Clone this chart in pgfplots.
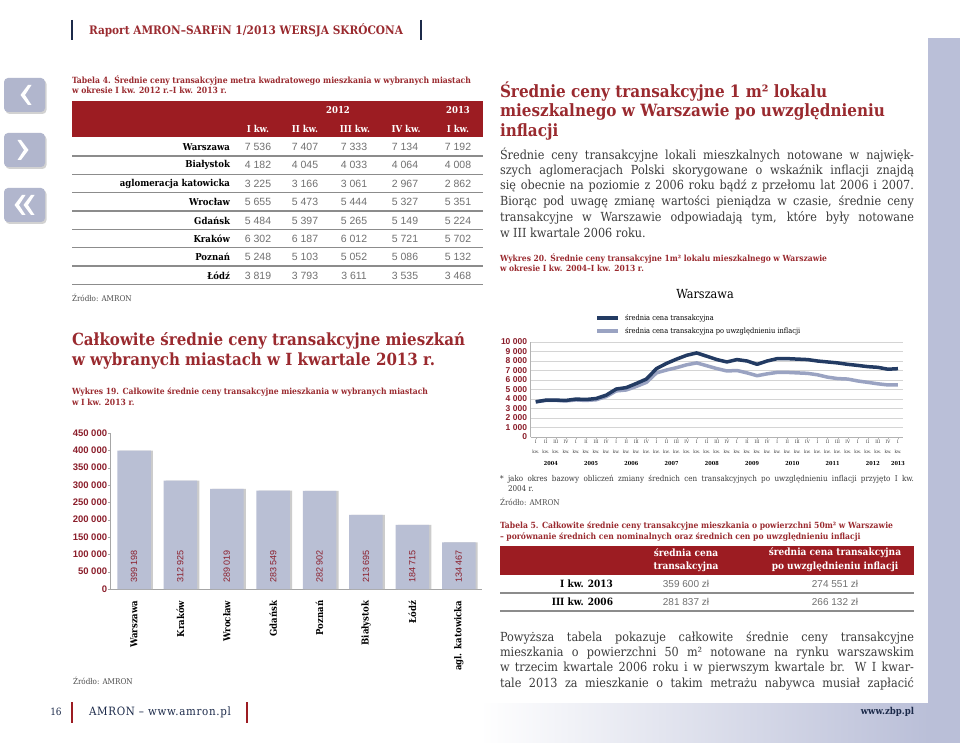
\documentclass[border=0pt]{standalone}
\usepackage{fontspec}
\usepackage{pgfplots}
\pgfplotsset{compat=1.18}
\usetikzlibrary{shadows}
\setmainfont{DejaVu Serif}[FakeStretch=0.9]
\newfontfamily\sansf{Liberation Sans}
\definecolor{dred}{HTML}{9A2A2F}
\definecolor{band}{HTML}{9C1C22}
\definecolor{axred}{HTML}{8B1E2B}
\definecolor{navy}{HTML}{233B63}
\definecolor{navybar}{HTML}{1C2A4A}
\definecolor{lav}{HTML}{BABFD8}
\definecolor{lavline}{HTML}{9AA3C2}
\definecolor{barc}{HTML}{B9BFD4}
\definecolor{txt}{HTML}{3C3C3C}
\definecolor{numg}{HTML}{707070}
\newlength\tmpl
\newcommand{\setscale}[3]{\settowidth{\tmpl}{#3}\pgfmathsetmacro{#1}{#2/\tmpl}}
\newcommand{\jl}[2]{\makebox[#1pt][s]{#2}}
\newcommand{\hf}{\bfseries\fontsize{12}{14}\selectfont}
\newcommand{\cf}{\bfseries\fontsize{8}{9}\selectfont}
\newcommand{\bt}{\fontsize{12.5}{14}\selectfont}
\newcommand{\src}{\fontsize{8}{9}\selectfont\color{black!70}}
\newcommand{\ff}{\fontsize{9}{10}\selectfont\addfontfeature{LetterSpace=6}}
\tikzset{T/.style={inner sep=0pt, outer sep=0pt, anchor=west},
 TC/.style={inner sep=0pt, outer sep=0pt, anchor=center},
 TE/.style={inner sep=0pt, outer sep=0pt, anchor=east}}
\begin{document}
\setscale{\fsA}{314}{\hf Raport AMRON–SARFiN 1/2013 WERSJA SKRÓCONA}%
\setscale{\fsB}{399}{\cf Tabela 4. Średnie ceny transakcyjne metra kwadratowego mieszkania w wybranych miastach}%
\setscale{\fsC}{393}{\hf Całkowite średnie ceny transakcyjne mieszkań}%
\setscale{\fsD}{356}{\cf Wykres 19. Całkowite średnie ceny transakcyjne mieszkania w wybranych miastach}%
\setscale{\fsE}{385}{\hf mieszkalnego w Warszawie po uwzględnieniu}%
\setscale{\fsF}{327}{\cf Wykres 20. Średnie ceny transakcyjne 1m² lokalu mieszkalnego w Warszawie}%
\setscale{\fsG}{393}{\cf Tabela 5. Całkowite średnie ceny transakcyjne mieszkania o powierzchni 50m² w Warszawie}%
\setscale{\fsH}{142}{\ff AMRON – www.amron.pl}%
\begin{tikzpicture}
\path[use as bounding box] (0pt,0pt) rectangle (960pt,-743pt);
\begin{scope}[x=1pt,y=-1pt]
\fill[white] (0,0) rectangle (960,743);
% right strip and bottom band
\fill[lav] (928,38) rectangle (960,743);
\shade[left color=white, right color=lav] (480,703) rectangle (928.5,743);
% header
\draw[navybar, line width=2.2pt] (72,20) -- (72,40);
\draw[navybar, line width=2.2pt] (421,20) -- (421,40);
\node[T] at (89,30.5) {\scalebox{\fsA}{\hf\color{dred}Raport AMRON–SARFiN 1/2013 WERSJA SKRÓCONA}};
% nav buttons
\foreach \yt in {78,133,188}
  \fill[lav!95!black, rounded corners=4pt, drop shadow={shadow xshift=1.5pt, shadow yshift=-2pt, opacity=0.35}] (4,\yt) rectangle (45,{\yt+34});
\fill[white] (28,85)--(20.5,95)--(28,105)--(31.5,105)--(25,95)--(31.5,85)--cycle;
\fill[white] (21,140)--(28.5,150)--(21,160)--(17.5,160)--(24,150)--(17.5,140)--cycle;
\fill[white] (22,195)--(14.5,205)--(22,215)--(25.5,215)--(19,205)--(25.5,195)--cycle;
\fill[white] (31,195)--(23.5,205)--(31,215)--(34.5,215)--(28,205)--(34.5,195)--cycle;
% Tabela 4 caption
\node[T] at (72,80.5) {\scalebox{\fsB}{\cf\color{dred}Tabela 4. Średnie ceny transakcyjne metra kwadratowego mieszkania w wybranych miastach}};
\node[T] at (72,90) {\scalebox{\fsB}{\cf\color{dred}w okresie I kw. 2012 r.–I kw. 2013 r.}};
% Tabela 4 band
\fill[band] (72,101) rectangle (483,137.5);
\begin{scope}[every node/.style={TC, text=white, font=\bfseries\fontsize{9.5}{11}\selectfont}]
\node at (338,110) {2012};
\node at (458,110) {2013};
\node at (258,128.5) {I kw.};
\node at (305,128.5) {II kw.};
\node at (355,128.5) {III kw.};
\node at (406,128.5) {IV kw.};
\node at (458,128.5) {I kw.};
\end{scope}
\foreach \k in {0,...,7}
  \draw[black!45, line width=1.3pt] (72,{156+18.35*\k}) -- (483,{156+18.35*\k});
\foreach \n/\a/\b/\c/\d/\e [count=\k from 0] in {Warszawa/7 536/7 407/7 333/7 134/7 192,Białystok/4 182/4 045/4 033/4 064/4 008,aglomeracja katowicka/3 225/3 166/3 061/2 967/2 862,Wrocław/5 655/5 473/5 444/5 327/5 351,Gdańsk/5 484/5 397/5 265/5 149/5 224,Kraków/6 302/6 187/6 012/5 721/5 702,Poznań/5 248/5 103/5 052/5 086/5 132,Łódź/3 819/3 793/3 611/3 535/3 468}{
  \pgfmathsetmacro\yy{147+18.35*\k}
  \node[TE, font=\bfseries\fontsize{9.5}{11}\selectfont] at (230,\yy) {\n};
  \begin{scope}[every node/.style={TC, font=\sansf\fontsize{10.5}{12}\selectfont, text=numg}]
  \node at (258,\yy) {\a};
  \node at (305,\yy) {\b};
  \node at (354,\yy) {\c};
  \node at (405,\yy) {\d};
  \node at (458,\yy) {\e};
  \end{scope}
}
\node[T] at (72,297.5) {\src Źródło: AMRON};
% Left heading
\node[T] at (72,341) {\scalebox{\fsC}{\hf\color{dred}Całkowite średnie ceny transakcyjne mieszkań}};
\node[T] at (72,361) {\scalebox{\fsC}{\hf\color{dred}w wybranych miastach w I kwartale 2013 r.}};
\node[T] at (72,392.5) {\scalebox{\fsD}{\cf\color{dred}Wykres 19. Całkowite średnie ceny transakcyjne mieszkania w wybranych miastach}};
\node[T] at (72,402.5) {\scalebox{\fsD}{\cf\color{dred}w I kw. 2013 r.}};
\node[T] at (73,681) {\src Źródło: AMRON};
% Right heading
\node[T] at (500,92) {\scalebox{\fsE}{\hf\color{dred}Średnie ceny transakcyjne 1 m² lokalu}};
\node[T] at (500,112) {\scalebox{\fsE}{\hf\color{dred}mieszkalnego w Warszawie po uwzględnieniu}};
\node[T] at (500,132) {\scalebox{\fsE}{\hf\color{dred}inflacji}};
\begin{scope}[every node/.style={T, text=txt}]
\node at (500,155) {\bt\jl{414}{Średnie ceny transakcyjne lokali mieszkalnych notowane w najwięk-}};
\node at (500,170.6) {\bt\jl{414}{szych aglomeracjach Polski skorygowane o wskaźnik inflacji znajdą}};
\node at (500,186.2) {\bt\jl{414}{się obecnie na poziomie z 2006 roku bądź z przełomu lat 2006 i 2007.}};
\node at (500,201.8) {\bt\jl{414}{Biorąc pod uwagę zmianę wartości pieniądza w czasie, średnie ceny}};
\node at (500,217.4) {\bt\jl{414}{transakcyjne w Warszawie odpowiadają tym, które były notowane}};
\node at (500,233) {\bt w III kwartale 2006 roku.};
\end{scope}
\node[T] at (500,258.5) {\scalebox{\fsF}{\cf\color{dred}Wykres 20. Średnie ceny transakcyjne 1m² lokalu mieszkalnego w Warszawie}};
\node[T] at (500,268.5) {\scalebox{\fsF}{\cf\color{dred}w okresie I kw. 2004–I kw. 2013 r.}};
% line chart title and legend
\node[TC, font=\fontsize{12.5}{14}\selectfont] at (705,294) {Warszawa};
\draw[navy, line width=3.5pt] (597,318) -- (618,318);
\draw[lavline, line width=3.5pt] (597,331) -- (618,331);
\node[T, font=\fontsize{7.4}{8}\selectfont] at (625,318) {średnia cena transakcyjna};
\node[T, font=\fontsize{7.4}{8}\selectfont] at (625,331) {średnia cena transakcyjna po uwzględnieniu inflacji};
% footnote
\node[T, text=txt] at (500,479) {\fontsize{8}{9}\selectfont *};
\node[T, text=txt] at (508,479) {\fontsize{8}{9}\selectfont\jl{406}{jako okres bazowy obliczeń zmiany średnich cen transakcyjnych po uwzględnieniu inflacji przyjęto I kw.}};
\node[T, text=txt] at (508,489) {\fontsize{8}{9}\selectfont 2004 r.};
\node[T] at (500,502) {\src Źródło: AMRON};
% Tabela 5
\node[T] at (500,526) {\scalebox{\fsG}{\cf\color{dred}Tabela 5. Całkowite średnie ceny transakcyjne mieszkania o powierzchni 50m² w Warszawie}};
\node[T] at (500,537.5) {\scalebox{\fsG}{\cf\color{dred}– porównanie średnich cen nominalnych oraz średnich cen po uwzględnieniu inflacji}};
\fill[band] (500,546) rectangle (914,574.5);
\begin{scope}[every node/.style={TC, text=white, font=\bfseries\fontsize{10}{11}\selectfont}]
\node at (686,553) {średnia cena};
\node at (686,567) {transakcyjna};
\node at (835,553) {średnia cena transakcyjna};
\node at (835,567) {po uwzględnieniu inflacji};
\end{scope}
\node[TE, font=\bfseries\fontsize{10}{11}\selectfont] at (613,584) {I kw. 2013};
\node[TE, font=\bfseries\fontsize{10}{11}\selectfont] at (613,602) {III kw. 2006};
\begin{scope}[every node/.style={TC, text=numg, font=\sansf\fontsize{10}{11}\selectfont}]
\node at (686,583.5) {359 600 zł};
\node at (835,583.5) {274 551 zł};
\node at (686,601.5) {281 837 zł};
\node at (835,601.5) {266 132 zł};
\end{scope}
\draw[black!45, line width=1.3pt] (500,593) -- (914,593);
\draw[black!45, line width=1.3pt] (500,611) -- (914,611);
% bottom paragraph
\begin{scope}[every node/.style={T, text=txt}]
\node at (500,638) {\bt\jl{414}{Powyższa tabela pokazuje całkowite średnie ceny transakcyjne}};
\node at (500,653.3) {\bt\jl{414}{mieszkania o powierzchni 50 m² notowane na rynku warszawskim}};
\node at (500,668.6) {\bt\jl{414}{w trzecim kwartale 2006 roku i w pierwszym kwartale br. W I kwar-}};
\node at (500,684) {\bt\jl{414}{tale 2013 za mieszkanie o takim metrażu nabywca musiał zapłacić}};
\end{scope}
% footer
\node[TC, font=\fontsize{10}{11}\selectfont, text=navybar] at (56,712) {16};
\draw[band, line width=1.2pt] (72,702) -- (72,723);
\node[T] at (89,712) {\scalebox{\fsH}{\ff\color{navybar}AMRON – www.amron.pl}};
\draw[band, line width=1.2pt] (247,702) -- (247,723);
\node[TE, font=\bfseries\fontsize{9.5}{11}\selectfont, text=navybar] at (914,711.5) {www.zbp.pl};
\end{scope}

% ===== Bar chart (Wykres 19) =====
\begin{axis}[
 at={(110.8pt,-589pt)}, anchor=south west, scale only axis,
 width=371.2pt, height=156pt,
 xmin=-0.5, xmax=7.5, ymin=0, ymax=450000,
 axis x line*=bottom, axis y line*=left,
 axis line style={black!35, line width=0.8pt},
 xtick={0,1,2,3,4,5,6,7},
 xticklabels={Warszawa,Kraków,Wrocław,Gdańsk,Poznań,Białystok,Łódź,agl. katowicka},
 x tick label style={rotate=90, anchor=east, font=\bfseries\fontsize{9.5}{11}\selectfont, text=black, inner sep=0pt},
 xticklabel shift=9pt,
 x tick style={draw=none},
 ytick={0,50000,100000,150000,200000,250000,300000,350000,400000,450000},
 yticklabels={0,50 000,100 000,150 000,200 000,250 000,300 000,350 000,400 000,450 000},
 scaled y ticks=false,
 y tick label style={font=\sansf\bfseries\fontsize{9.5}{11}\selectfont, text=axred, inner sep=1pt},
 y tick style={black!35}, tick align=outside, major tick length=2.5pt,
 clip=false,
]
\addplot[ybar, bar width=33.5pt, bar shift=2.2pt, fill=black!20, draw=none, forget plot]
 coordinates {(0,399198) (1,312925) (2,289019) (3,283549) (4,282902) (5,213695) (6,184715) (7,134467)};
\addplot[ybar, bar width=33.5pt, bar shift=0pt, fill=barc, draw=none]
 coordinates {(0,399198) (1,312925) (2,289019) (3,283549) (4,282902) (5,213695) (6,184715) (7,134467)};
\addplot[only marks, mark=*, mark size=0pt, mark options={draw=none, fill=none},
 point meta=explicit symbolic, nodes near coords,
 every node near coord/.append style={rotate=90, anchor=west, inner sep=0pt, font=\sansf\fontsize{9}{10}\selectfont, text=axred}]
 coordinates {(0,17000) [399 198] (1,17000) [312 925] (2,17000) [289 019] (3,17000) [283 549] (4,17000) [282 902] (5,17000) [213 695] (6,17000) [184 715] (7,17000) [134 467]};
\end{axis}

% ===== Line chart (Wykres 20) =====
\begin{axis}[
 at={(530.7pt,-437pt)}, anchor=south west, scale only axis,
 width=372.3pt, height=95pt,
 xmin=-0.5, xmax=36.5, ymin=0, ymax=10000,
 axis x line*=bottom, axis y line*=left,
 axis line style={black!30, line width=0.6pt},
 ytick={0,1000,2000,3000,4000,5000,6000,7000,8000,9000,10000},
 yticklabels={0,1 000,2 000,3 000,4 000,5 000,6 000,7 000,8 000,9 000,10 000},
 scaled y ticks=false,
 ymajorgrids, grid style={black!17, line width=0.7pt},
 y tick style={draw=none},
 y tick label style={font=\sansf\bfseries\fontsize{8.5}{9}\selectfont, text=axred, inner sep=1.5pt},
 xtick={0,...,36},
 xticklabels={{I\\kw.},{II\\kw.},{III\\kw.},{IV\\kw.},{I\\kw.},{II\\kw.},{III\\kw.},{IV\\kw.},{I\\kw.},{II\\kw.},{III\\kw.},{IV\\kw.},{I\\kw.},{II\\kw.},{III\\kw.},{IV\\kw.},{I\\kw.},{II\\kw.},{III\\kw.},{IV\\kw.},{I\\kw.},{II\\kw.},{III\\kw.},{IV\\kw.},{I\\kw.},{II\\kw.},{III\\kw.},{IV\\kw.},{I\\kw.},{II\\kw.},{III\\kw.},{IV\\kw.},{I\\kw.},{II\\kw.},{III\\kw.},{IV\\kw.},{I\\kw.}},
 x tick label style={align=center, font=\fontsize{4.5}{10}\selectfont, text=black!80, inner sep=1pt},
 x tick style={black!30}, major tick length=2pt, tick align=outside,
 clip=false,
]
\addplot[lavline, line width=3.5pt, line join=round] coordinates {
(0,3700) (1,3850) (2,3850) (3,3800) (4,3900) (5,3850) (6,3920) (7,4250) (8,4850) (9,4950)
(10,5323) (11,5750) (12,6750) (13,7050) (14,7300) (15,7600) (16,7800) (17,7500) (18,7200) (19,6950)
(20,7000) (21,6750) (22,6450) (23,6650) (24,6800) (25,6800) (26,6750) (27,6700) (28,6550) (29,6300)
(30,6150) (31,6100) (32,5900) (33,5750) (34,5600) (35,5480) (36,5491)};
\addplot[navy, line width=3.5pt, line join=round] coordinates {
(0,3700) (1,3880) (2,3880) (3,3850) (4,3990) (5,3950) (6,4050) (7,4400) (8,5050) (9,5200)
(10,5637) (11,6100) (12,7200) (13,7750) (14,8200) (15,8600) (16,8850) (17,8500) (18,8150) (19,7900)
(20,8150) (21,8000) (22,7650) (23,8000) (24,8250) (25,8250) (26,8200) (27,8150) (28,8000) (29,7900)
(30,7800) (31,7650) (32,7536) (33,7407) (34,7333) (35,7134) (36,7192)};
\foreach \xx/\yr in {1.5/2004,5.5/2005,9.5/2006,13.5/2007,17.5/2008,21.5/2009,25.5/2010,29.5/2011,33.5/2012,36/2013}{
  \edef\tmp{\noexpand\node[font=\noexpand\bfseries\noexpand\fontsize{5.5}{6}\noexpand\selectfont, inner sep=0pt] at (axis cs:\xx,0) [yshift=-26pt] {\yr};}\tmp
}
\end{axis}
\end{tikzpicture}
\end{document}
